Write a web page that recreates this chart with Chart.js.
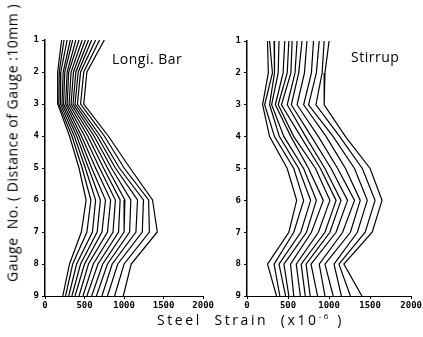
<!DOCTYPE html>
<html>
<head>
<meta charset="utf-8">
<script src="https://cdn.jsdelivr.net/npm/chart.js@4.4.0/dist/chart.umd.min.js"></script>
<style>
  body { margin: 0; background: #fff; }
  #wrap { position: relative; width: 423px; height: 337px; overflow: hidden; }
  canvas { position: absolute; top: 0; }
  .txt { position: absolute; font-family: "Open Sans", sans-serif; color: #000; white-space: nowrap; }
</style>
</head>
<body>
<div id="wrap">
  <canvas id="bar" width="215" height="337" style="left:0"></canvas>
  <canvas id="stir" width="208" height="337" style="left:215px"></canvas>
  <div class="txt" style="left:112px;top:49px;font-size:14px;letter-spacing:0.5px;">Longi. Bar</div>
  <div class="txt" style="left:351px;top:47px;font-size:14px;letter-spacing:0.5px;">Stirrup</div>
  <div class="txt" style="left:157px;top:310px;font-size:14px;letter-spacing:2.6px;">Steel&nbsp; Strain&nbsp; (x10<sup style="font-size:8px">-6</sup> )</div>
  <div class="txt" style="left:12px;top:143px;font-size:14px;letter-spacing:0.5px;transform:translate(-50%,-50%) rotate(-90deg);">Gauge&nbsp; No. ( Distance of Gauge :10mm )</div>
</div>
<script>
// gauge numbers (1 = top)
const gauges = [1, 2, 3, 4, 5, 6, 7, 8, 9];
const strainTicks = [0, 500, 1000, 1500, 2000];

// Longi. Bar strain (x10^-6) per gauge, one value per load step
const bar1 = [210, 240, 280, 320, 350, 390, 430, 470, 510, 550, 590, 640, 690, 750];
const bar2 = [160, 180, 200, 230, 250, 280, 300, 330, 360, 390, 420, 450, 490, 530];
const bar3 = [160, 175, 195, 215, 235, 260, 280, 305, 330, 355, 380, 410, 450, 490];
const bar4 = [310, 340, 370, 400, 430, 460, 500, 540, 580, 620, 660, 700, 750, 800];
const bar5 = [430, 470, 510, 550, 590, 640, 690, 740, 790, 840, 890, 940, 1000, 1075];
const bar6 = [520, 580, 640, 700, 765, 830, 890, 950, 1010, 1085, 1170, 1245, 1310, 1360];
const bar7 = [460, 530, 600, 660, 720, 790, 860, 930, 1000, 1070, 1150, 1230, 1320, 1420];
const bar8 = [310, 350, 400, 450, 500, 550, 610, 670, 730, 790, 850, 920, 1000, 1090];
const bar9 = [225, 260, 300, 340, 380, 430, 480, 530, 590, 650, 720, 790, 880, 990];

// Stirrup strain (x10^-6) per gauge
const stir1 = [250, 275, 330, 390, 460, 510, 550, 610, 670, 730, 810, 880, 940, 1000];
const stir2 = [260, 310, 335, 380, 440, 490, 535, 585, 630, 700, 785, 845, 915, 950];
const stir3 = [190, 215, 275, 300, 345, 380, 420, 490, 540, 610, 690, 750, 840, 940];
const stir4 = [275, 335, 395, 450, 535, 570, 655, 715, 785, 870, 965, 1050, 1130, 1200];
const stir5 = [490, 570, 630, 690, 750, 835, 895, 950, 1025, 1105, 1200, 1310, 1405, 1500];
const stir6 = [605, 690, 775, 845, 930, 1010, 1085, 1145, 1225, 1310, 1380, 1465, 1560, 1645];
const stir7 = [510, 570, 655, 725, 785, 870, 950, 1010, 1085, 1165, 1260, 1345, 1440, 1525];
const stir8 = [250, 330, 390, 450, 530, 600, 660, 720, 780, 880, 950, 1060, 1120, 1180];
const stir9 = [360, 400, 470, 510, 570, 650, 710, 770, 860, 950, 1050, 1150, 1260, 1400];

const barRows = [bar1, bar2, bar3, bar4, bar5, bar6, bar7, bar8, bar9];
const stirRows = [stir1, stir2, stir3, stir4, stir5, stir6, stir7, stir8, stir9];

const tickFont = { family: 'DejaVu Sans Mono', size: 9, weight: 'bold' };

function buildDatasets(rows) {
  const sets = [];
  for (let i = 0; i < rows[0].length; i++) {
    sets.push({
      data: gauges.map((g, k) => ({ x: rows[k][i], y: g })),
      borderColor: '#000',
      borderWidth: 1.2,
      pointRadius: 0,
      showLine: true,
      fill: false,
    });
  }
  return sets;
}

function makeChart(id, rows, yWidth, pad) {
  new Chart(document.getElementById(id), {
    type: 'scatter',
    data: { datasets: buildDatasets(rows) },
    options: {
      responsive: false,
      animation: false,
      layout: { padding: pad },
      plugins: { legend: { display: false }, tooltip: { enabled: false } },
      scales: {
        x: {
          type: 'linear',
          min: 0,
          max: 2000,
          afterBuildTicks: (scale) => { scale.ticks = strainTicks.map(v => ({ value: v })); },
          afterFit: (scale) => { scale.height = 41; },
          border: { display: true, color: '#000', width: 1 },
          grid: { drawOnChartArea: false, drawTicks: true, tickLength: 3, color: '#000' },
          ticks: { color: '#000', font: tickFont, padding: 1, maxRotation: 0, callback: (v) => String(v) },
        },
        y: {
          type: 'linear',
          reverse: true,
          min: 1,
          max: 9,
          afterBuildTicks: (scale) => { scale.ticks = gauges.map(v => ({ value: v })); },
          afterFit: (scale) => { scale.width = yWidth; },
          border: { display: true, color: '#000', width: 1.5 },
          grid: { drawOnChartArea: false, drawTicks: true, tickLength: 3, color: '#000' },
          ticks: { color: '#000', font: tickFont, padding: 3, callback: (v) => String(v) },
        },
      },
    },
  });
}

makeChart('bar', barRows, 45, { top: 40, right: 8, left: 0, bottom: 0 });
makeChart('stir', stirRows, 32, { top: 41, right: 8, left: 0, bottom: 0 });
</script>
</body>
</html>
